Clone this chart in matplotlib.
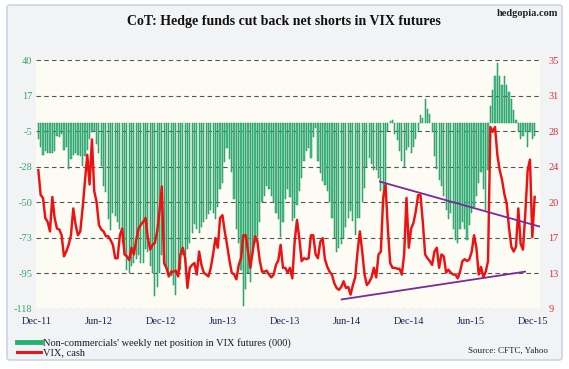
import numpy as np
import matplotlib.pyplot as plt
from matplotlib.lines import Line2D
from matplotlib.patches import FancyBboxPatch

plt.rcParams['font.family'] = ['Liberation Serif', 'DejaVu Serif']

# weekly net position of non-commercials in VIX futures (000), Dec-11 .. Dec-15
net_pos = [
    -10, -15, -20, -18, -19, -19, -19, -18, -8, -9,
    -7, -17, -15, -29, -23, -20, -19, -20, -21, -27,
    -21, -17, -10, -6, -5, -13, -19, -27, -40, -44,
    -61, -68, -57, -59, -63, -67, -76, -84, -93, -95,
    -91, -89, -86, -84, -89, -89, -80, -82, -91, -95,
    -110, -104, -95, -84, -91, -93, -97, -97, -103, -109,
    -97, -93, -84, -89, -80, -76, -70, -64, -67, -70,
    -66, -63, -61, -58, -55, -57, -61, -53, -42, -38,
    -25, -16, -23, -31, -48, -67, -76, -93, -116, -105,
    -95, -101, -84, -76, -72, -63, -50, -46, -40, -42,
    -46, -50, -57, -61, -72, -63, -48, -42, -47, -62,
    -60, -52, -43, -35, -24, -18, -16, -22, -9, -3,
    -24, -32, -37, -39, -43, -50, -60, -73, -82, -79,
    -77, -73, -66, -60, -56, -62, -71, -60, -60, -50,
    -41, -28, -22, -26, -30, -30, -35, -43, -52, -45,
    -5, 1, 2, -7, -11, -18, -24, -28, -17, -15,
    -19, -15, -10, -6, 5, 3, 15, 9, 6, -6,
    -21, -29, -36, -40, -46, -55, -61, -57, -67, -74,
    -76, -67, -63, -67, -74, -65, -57, -53, -46, -38,
    -31, -42, -55, -30, 11, 21, 30, 38, 30, 24,
    30, 24, 20, 15, 8, 2, -6, -10, -8, -6,
    -15, -6, -10, -8,
]

# VIX cash, weekly
vix = [
    23.5, 20.9, 20.6, 18.5, 18.1, 17.1, 20.7, 18.5, 17.4, 17.3,
    16.7, 14.5, 15.0, 15.7, 16.7, 19.5, 17.8, 16.7, 17.1, 19.5,
    22.3, 25.1, 22.0, 26.7, 21.3, 20.2, 17.8, 17.3, 17.1, 16.6,
    16.6, 16.2, 15.7, 14.3, 14.3, 16.7, 17.4, 14.7, 14.5, 14.1,
    15.4, 14.7, 16.2, 17.4, 17.8, 18.1, 18.5, 16.4, 15.2, 15.7,
    15.9, 17.1, 19.2, 21.8, 13.8, 13.3, 12.4, 12.9, 12.9, 13.0,
    12.4, 14.7, 15.4, 14.3, 11.2, 13.3, 13.6, 13.8, 12.6, 15.0,
    13.6, 12.8, 12.6, 12.4, 13.3, 14.7, 16.4, 15.4, 18.5, 18.8,
    17.1, 15.7, 14.1, 12.8, 12.6, 12.1, 13.6, 14.3, 16.7, 16.7,
    15.0, 13.3, 15.0, 16.6, 16.1, 14.1, 12.9, 12.9, 13.0, 12.6,
    12.3, 12.6, 13.6, 14.1, 15.7, 13.3, 13.3, 12.8, 13.3, 12.2,
    16.0, 18.3, 16.4, 14.0, 14.3, 14.2, 14.3, 16.7, 16.7, 14.7,
    14.3, 16.0, 16.4, 14.2, 13.4, 12.9, 12.6, 11.7, 11.2, 11.0,
    11.3, 11.9, 11.2, 11.3, 10.5, 11.5, 12.3, 15.0, 17.1, 15.0,
    12.6, 11.5, 11.8, 12.3, 13.3, 12.3, 14.7, 15.0, 20.6, 22.0,
    17.4, 13.8, 13.3, 13.3, 13.2, 13.2, 12.6, 14.7, 20.6, 15.4,
    17.4, 18.0, 19.2, 20.9, 20.9, 18.1, 14.7, 14.3, 14.0, 13.6,
    15.0, 15.4, 13.3, 14.7, 14.5, 12.8, 13.1, 12.8, 12.6, 12.6,
    12.2, 12.9, 14.0, 14.2, 14.0, 14.2, 15.0, 16.7, 15.4, 12.6,
    13.4, 12.3, 12.9, 14.0, 28.0, 27.5, 28.0, 25.1, 23.5, 22.5,
    21.0, 20.0, 17.5, 15.5, 15.0, 15.5, 19.5, 15.8, 15.2, 19.0,
    23.5, 24.6, 16.5, 20.7,
]

# hand-drawn trend lines on VIX (week index, VIX level)
upper_trend_wk = [146.6, 215.3]
upper_trend_vix = [22.3, 17.6]
lower_trend_wk = [130.2, 208.9]
lower_trend_vix = [10.0, 12.9]

x_labels = ['Dec-11', 'Jun-12', 'Dec-12', 'Jun-13', 'Dec-13',
            'Jun-14', 'Dec-14', 'Jun-15', 'Dec-15']
left_labels = ['-118', '-95', '-73', '-50', '-28', '-5', '17', '40']
right_labels = ['9', '13', '17', '20', '24', '28', '31', '35']

W, H = 569, 369
fig = plt.figure(figsize=(W / 100, H / 100), dpi=100)
fig.patch.set_facecolor('white')

frame = FancyBboxPatch((7 / W, 1 - 360 / H), 555 / W, 355 / H,
                       boxstyle='round,pad=0,rounding_size=0.006',
                       transform=fig.transFigure, facecolor='#f2f3f5',
                       edgecolor='#c9d6e4', linewidth=1.2, zorder=-5)
fig.patches.append(frame)

ax = fig.add_axes([36 / W, (H - 309) / H, 504 / W, 249 / H])
ax.set_facecolor('#fcfcf5')
weeks = np.arange(len(net_pos))

ax.bar(weeks, net_pos, width=0.5, color='#3fc490', edgecolor='#1a8c4f',
       linewidth=0.35, zorder=2)
ax.set_xlim(-1.0, 215.3)
ax.set_ylim(-118, 40)
ax.set_yticks(np.linspace(-118, 40, 8))
ax.set_yticklabels(left_labels, color='#3aa56a', fontsize=7.5)
ax.yaxis.grid(True, color='#555555', linewidth=0.8, linestyle=(0, (4, 3)))
ax.set_axisbelow(True)
ax.set_xticks(np.linspace(-0.5, 212.3, len(x_labels)))
ax.set_xticklabels(x_labels, color='#1d2450', fontsize=7.5)
ax.tick_params(axis='both', length=0)
ax.tick_params(axis='y', pad=2.5)
ax.tick_params(axis='x', pad=6)
for s in ax.spines.values():
    s.set_visible(False)

ax2 = ax.twinx()
ax2.plot(np.arange(len(vix)), vix, color='#ee1111', linewidth=1.75,
         solid_joinstyle='round', zorder=3)
ax2.plot(upper_trend_wk, upper_trend_vix, color='#7b2a98', linewidth=1.3, zorder=4)
ax2.plot(lower_trend_wk, lower_trend_vix, color='#7b2a98', linewidth=1.3, zorder=4)
ax2.set_ylim(9, 35)
ax2.set_yticks(np.linspace(9, 35, 8))
ax2.set_yticklabels(right_labels, color='#d6333a', fontsize=7.5)
ax2.tick_params(axis='y', length=0, pad=6)
for s in ax2.spines.values():
    s.set_visible(False)

fig.text(284 / W, 1 - 22 / H, 'CoT: Hedge funds cut back net shorts in VIX futures',
         ha='center', va='center', fontsize=10, fontweight='bold', color='#111111')
fig.text(558 / W, 1 - 13 / H, 'hedgopia.com', ha='right', va='center',
         fontsize=7.5, fontweight='bold', color='#222222')
fig.text(548 / W, 1 - 351 / H, 'Source: CFTC, Yahoo', ha='right', va='center',
         fontsize=6.5, color='#222222')

handles = [Line2D([], [], color='#22b46e', linewidth=3.5),
           Line2D([], [], color='#e8161c', linewidth=2.2)]
fig.legend(handles,
           ["Non-commercials' weekly net position in VIX futures (000)", 'VIX, cash'],
           loc='upper left', bbox_to_anchor=(17 / W, 1 - 338 / H), frameon=False,
           fontsize=7.5, handlelength=2.3, handletextpad=0.15, labelspacing=0.05,
           borderpad=0, borderaxespad=0, labelcolor='#1a1a2e')

fig.savefig('out.png', dpi=100)
